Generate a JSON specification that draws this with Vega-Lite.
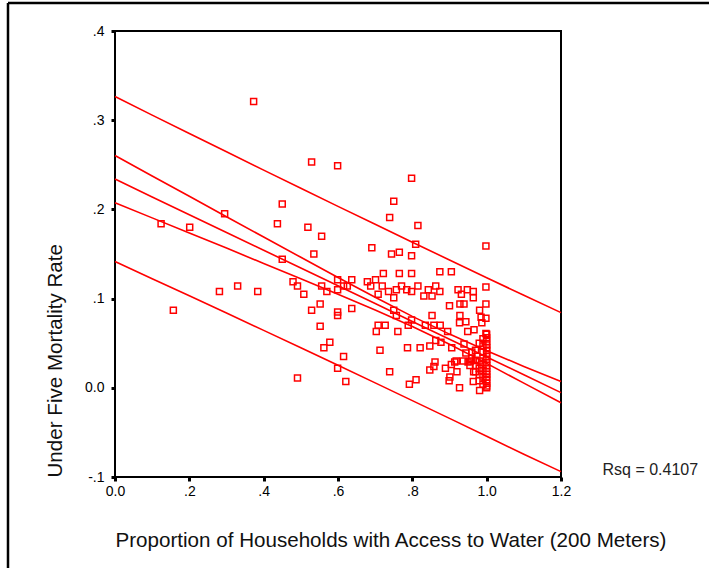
{
  "$schema": "https://vega.github.io/schema/vega-lite/v6.json",
  "width": 446,
  "height": 446,
  "autosize": {"type": "none"},
  "padding": {"left": 115, "top": 31, "right": 148, "bottom": 91},
  "background": "white",
  "datasets": {
    "lines": [
      {"line": "fit", "x": 0.0, "y": 0.2340}, {"line": "fit", "x": 0.1, "y": 0.2140}, {"line": "fit", "x": 0.2, "y": 0.1941}, {"line": "fit", "x": 0.3, "y": 0.1742}, {"line": "fit", "x": 0.4, "y": 0.1542}, {"line": "fit", "x": 0.5, "y": 0.1343}, {"line": "fit", "x": 0.6, "y": 0.1143}, {"line": "fit", "x": 0.7, "y": 0.0944}, {"line": "fit", "x": 0.8, "y": 0.0744}, {"line": "fit", "x": 0.9, "y": 0.0545}, {"line": "fit", "x": 1.0, "y": 0.0345}, {"line": "fit", "x": 1.1, "y": 0.0146}, {"line": "fit", "x": 1.2, "y": -0.0054},
      {"line": "ciLo", "x": 0.0, "y": 0.2075}, {"line": "ciLo", "x": 0.1, "y": 0.1905}, {"line": "ciLo", "x": 0.2, "y": 0.1735}, {"line": "ciLo", "x": 0.3, "y": 0.1566}, {"line": "ciLo", "x": 0.4, "y": 0.1394}, {"line": "ciLo", "x": 0.5, "y": 0.1223}, {"line": "ciLo", "x": 0.6, "y": 0.1049}, {"line": "ciLo", "x": 0.7, "y": 0.0873}, {"line": "ciLo", "x": 0.8, "y": 0.0687}, {"line": "ciLo", "x": 0.9, "y": 0.0488}, {"line": "ciLo", "x": 1.0, "y": 0.0274}, {"line": "ciLo", "x": 1.1, "y": 0.0052}, {"line": "ciLo", "x": 1.2, "y": -0.0168},
      {"line": "ciHi", "x": 0.0, "y": 0.2605}, {"line": "ciHi", "x": 0.1, "y": 0.2375}, {"line": "ciHi", "x": 0.2, "y": 0.2147}, {"line": "ciHi", "x": 0.3, "y": 0.1918}, {"line": "ciHi", "x": 0.4, "y": 0.1690}, {"line": "ciHi", "x": 0.5, "y": 0.1463}, {"line": "ciHi", "x": 0.6, "y": 0.1237}, {"line": "ciHi", "x": 0.7, "y": 0.1015}, {"line": "ciHi", "x": 0.8, "y": 0.0801}, {"line": "ciHi", "x": 0.9, "y": 0.0602}, {"line": "ciHi", "x": 1.0, "y": 0.0416}, {"line": "ciHi", "x": 1.1, "y": 0.0240}, {"line": "ciHi", "x": 1.2, "y": 0.0070},
      {"line": "piLo", "x": 0.0, "y": 0.1415}, {"line": "piLo", "x": 0.1, "y": 0.1223}, {"line": "piLo", "x": 0.2, "y": 0.1031}, {"line": "piLo", "x": 0.3, "y": 0.0838}, {"line": "piLo", "x": 0.4, "y": 0.0644}, {"line": "piLo", "x": 0.5, "y": 0.0449}, {"line": "piLo", "x": 0.6, "y": 0.0252}, {"line": "piLo", "x": 0.7, "y": 0.0055}, {"line": "piLo", "x": 0.8, "y": -0.0144}, {"line": "piLo", "x": 0.9, "y": -0.0343}, {"line": "piLo", "x": 1.0, "y": -0.0544}, {"line": "piLo", "x": 1.1, "y": -0.0745}, {"line": "piLo", "x": 1.2, "y": -0.0940},
      {"line": "piHi", "x": 0.0, "y": 0.3265}, {"line": "piHi", "x": 0.1, "y": 0.3057}, {"line": "piHi", "x": 0.2, "y": 0.2851}, {"line": "piHi", "x": 0.3, "y": 0.2646}, {"line": "piHi", "x": 0.4, "y": 0.2440}, {"line": "piHi", "x": 0.5, "y": 0.2237}, {"line": "piHi", "x": 0.6, "y": 0.2034}, {"line": "piHi", "x": 0.7, "y": 0.1833}, {"line": "piHi", "x": 0.8, "y": 0.1632}, {"line": "piHi", "x": 0.9, "y": 0.1433}, {"line": "piHi", "x": 1.0, "y": 0.1234}, {"line": "piHi", "x": 1.1, "y": 0.1037}, {"line": "piHi", "x": 1.2, "y": 0.0843}
    ],
    "points": [
      {"x": 0.373, "y": 0.321}, {"x": 0.529, "y": 0.253}, {"x": 0.599, "y": 0.249}, {"x": 0.798, "y": 0.235}, {"x": 0.750, "y": 0.209}, {"x": 0.450, "y": 0.206}, {"x": 0.295, "y": 0.195}, {"x": 0.739, "y": 0.191}, {"x": 0.124, "y": 0.184}, {"x": 0.437, "y": 0.184},
      {"x": 0.201, "y": 0.180}, {"x": 0.519, "y": 0.180}, {"x": 0.815, "y": 0.182}, {"x": 0.556, "y": 0.170}, {"x": 0.809, "y": 0.161}, {"x": 0.998, "y": 0.159}, {"x": 0.691, "y": 0.157}, {"x": 0.535, "y": 0.150}, {"x": 0.744, "y": 0.150}, {"x": 0.765, "y": 0.152},
      {"x": 0.798, "y": 0.148}, {"x": 0.450, "y": 0.144}, {"x": 0.798, "y": 0.128}, {"x": 0.874, "y": 0.130}, {"x": 0.905, "y": 0.130}, {"x": 0.722, "y": 0.128}, {"x": 0.765, "y": 0.128}, {"x": 0.157, "y": 0.087}, {"x": 0.281, "y": 0.108}, {"x": 0.330, "y": 0.114},
      {"x": 0.384, "y": 0.108}, {"x": 0.479, "y": 0.119}, {"x": 0.491, "y": 0.114}, {"x": 0.508, "y": 0.105}, {"x": 0.556, "y": 0.114}, {"x": 0.570, "y": 0.108}, {"x": 0.599, "y": 0.121}, {"x": 0.599, "y": 0.110}, {"x": 0.615, "y": 0.114}, {"x": 0.637, "y": 0.121},
      {"x": 0.625, "y": 0.114}, {"x": 0.529, "y": 0.087}, {"x": 0.552, "y": 0.094}, {"x": 0.637, "y": 0.089}, {"x": 0.599, "y": 0.085}, {"x": 0.599, "y": 0.081}, {"x": 0.552, "y": 0.069}, {"x": 0.578, "y": 0.051}, {"x": 0.562, "y": 0.045}, {"x": 0.615, "y": 0.035},
      {"x": 0.599, "y": 0.022}, {"x": 0.621, "y": 0.007}, {"x": 0.491, "y": 0.011}, {"x": 0.679, "y": 0.119}, {"x": 0.688, "y": 0.114}, {"x": 0.701, "y": 0.121}, {"x": 0.708, "y": 0.105}, {"x": 0.719, "y": 0.114}, {"x": 0.736, "y": 0.108}, {"x": 0.750, "y": 0.101},
      {"x": 0.757, "y": 0.110}, {"x": 0.771, "y": 0.114}, {"x": 0.785, "y": 0.110}, {"x": 0.798, "y": 0.108}, {"x": 0.815, "y": 0.114}, {"x": 0.831, "y": 0.103}, {"x": 0.843, "y": 0.110}, {"x": 0.853, "y": 0.103}, {"x": 0.863, "y": 0.114}, {"x": 0.874, "y": 0.108},
      {"x": 0.750, "y": 0.087}, {"x": 0.757, "y": 0.081}, {"x": 0.761, "y": 0.063}, {"x": 0.703, "y": 0.063}, {"x": 0.708, "y": 0.070}, {"x": 0.727, "y": 0.070}, {"x": 0.713, "y": 0.042}, {"x": 0.739, "y": 0.018}, {"x": 0.787, "y": 0.045}, {"x": 0.792, "y": 0.004},
      {"x": 0.810, "y": 0.009}, {"x": 0.789, "y": 0.070}, {"x": 0.798, "y": 0.076}, {"x": 0.821, "y": 0.045}, {"x": 0.835, "y": 0.070}, {"x": 0.853, "y": 0.081}, {"x": 0.858, "y": 0.070}, {"x": 0.875, "y": 0.070}, {"x": 0.895, "y": 0.063}, {"x": 0.863, "y": 0.053},
      {"x": 0.847, "y": 0.047}, {"x": 0.877, "y": 0.051}, {"x": 0.847, "y": 0.020}, {"x": 0.861, "y": 0.029}, {"x": 0.858, "y": 0.024}, {"x": 0.889, "y": 0.022}, {"x": 0.901, "y": 0.012}, {"x": 0.899, "y": 0.008}, {"x": 0.906, "y": 0.045}, {"x": 0.900, "y": 0.092},
      {"x": 0.923, "y": 0.110}, {"x": 0.932, "y": 0.105}, {"x": 0.948, "y": 0.110}, {"x": 0.964, "y": 0.108}, {"x": 0.964, "y": 0.101}, {"x": 0.928, "y": 0.094}, {"x": 0.939, "y": 0.094}, {"x": 0.928, "y": 0.081}, {"x": 0.927, "y": 0.073}, {"x": 0.944, "y": 0.074},
      {"x": 0.949, "y": 0.063}, {"x": 0.966, "y": 0.065}, {"x": 0.939, "y": 0.049}, {"x": 0.944, "y": 0.039}, {"x": 0.927, "y": 0.000}, {"x": 0.920, "y": 0.018}, {"x": 0.914, "y": 0.029}, {"x": 0.950, "y": 0.029}, {"x": 0.964, "y": 0.007}, {"x": 0.981, "y": -0.003},
      {"x": 0.981, "y": 0.087}, {"x": 0.985, "y": 0.079}, {"x": 0.998, "y": 0.113}, {"x": 0.998, "y": 0.094}, {"x": 0.998, "y": 0.078}, {"x": 0.998, "y": 0.061}, {"x": 0.987, "y": 0.073},
      {"x": 0.905, "y": 0.026}, {"x": 0.918, "y": 0.030}, {"x": 0.937, "y": 0.030}, {"x": 0.957, "y": 0.030}, {"x": 0.965, "y": 0.018},
      {"x": 1.0, "y": 0.060}, {"x": 1.0, "y": 0.056}, {"x": 1.0, "y": 0.052}, {"x": 1.0, "y": 0.048}, {"x": 1.0, "y": 0.045}, {"x": 1.0, "y": 0.042}, {"x": 1.0, "y": 0.038}, {"x": 1.0, "y": 0.035}, {"x": 1.0, "y": 0.032}, {"x": 1.0, "y": 0.028},
      {"x": 1.0, "y": 0.025}, {"x": 1.0, "y": 0.022}, {"x": 1.0, "y": 0.018}, {"x": 1.0, "y": 0.015}, {"x": 1.0, "y": 0.012}, {"x": 1.0, "y": 0.009}, {"x": 1.0, "y": 0.005}, {"x": 1.0, "y": 0.002}, {"x": 1.0, "y": 0.000},
      {"x": 0.99, "y": 0.055}, {"x": 0.99, "y": 0.047}, {"x": 0.99, "y": 0.040}, {"x": 0.99, "y": 0.033}, {"x": 0.99, "y": 0.026}, {"x": 0.99, "y": 0.019}, {"x": 0.99, "y": 0.012}, {"x": 0.99, "y": 0.004},
      {"x": 0.98, "y": 0.050}, {"x": 0.98, "y": 0.030}, {"x": 0.98, "y": 0.022}, {"x": 0.98, "y": 0.015}, {"x": 0.98, "y": 0.008},
      {"x": 0.97, "y": 0.042}, {"x": 0.97, "y": 0.031}, {"x": 0.97, "y": 0.025}, {"x": 0.97, "y": 0.018}, {"x": 0.96, "y": 0.033}, {"x": 0.96, "y": 0.040}, {"x": 0.955, "y": 0.025}
    ]
  },
  "layer": [
    {
      "data": {"values": [{}]},
      "mark": {"type": "rule", "color": "black", "strokeWidth": 2.5},
      "encoding": {
        "x": {"datum": -0.2879, "type": "quantitative", "scale": {"domain": [0, 1.2]}, "title": "Proportion of Households with Access to Water (200 Meters)", "axis": {"values": [0, 0.2, 0.4, 0.6, 0.8, 1.0, 1.2]}},
        "y": {"datum": 0.4314, "type": "quantitative", "scale": {"domain": [-0.1, 0.4]}, "title": "Under Five Mortality Rate", "axis": {"values": [-0.1, 0, 0.1, 0.2, 0.3, 0.4]}},
        "y2": {"datum": -0.4}
      }
    },
    {
      "data": {"values": [{}]},
      "mark": {"type": "rule", "color": "black", "strokeWidth": 2.5},
      "encoding": {
        "x": {"datum": -0.2879, "type": "quantitative", "title": "Proportion of Households with Access to Water (200 Meters)"},
        "x2": {"datum": 2.0},
        "y": {"datum": 0.4314, "type": "quantitative", "title": "Under Five Mortality Rate"}
      }
    },
    {
      "data": {"name": "lines"},
      "mark": {"type": "line", "color": "#ff0000", "strokeWidth": 1.6},
      "encoding": {
        "x": {"field": "x", "type": "quantitative", "title": "Proportion of Households with Access to Water (200 Meters)"},
        "y": {"field": "y", "type": "quantitative", "title": "Under Five Mortality Rate"},
        "detail": {"field": "line"}
      }
    },
    {
      "data": {"name": "points"},
      "mark": {"type": "point", "shape": "square", "filled": false, "color": "#ff0000", "strokeWidth": 1.5, "size": 36, "opacity": 1},
      "encoding": {
        "x": {"field": "x", "type": "quantitative", "title": "Proportion of Households with Access to Water (200 Meters)"},
        "y": {"field": "y", "type": "quantitative", "title": "Under Five Mortality Rate"}
      }
    },
    {
      "data": {"values": [{"label": "Rsq = 0.4107"}]},
      "mark": {"type": "text", "align": "left", "baseline": "alphabetic", "fontSize": 16, "font": "Liberation Sans", "color": "#222222"},
      "encoding": {
        "x": {"datum": 1.3117, "type": "quantitative", "title": "Proportion of Households with Access to Water (200 Meters)"},
        "y": {"datum": -0.0975, "type": "quantitative", "title": "Under Five Mortality Rate"},
        "text": {"field": "label"}
      }
    }
  ],
  "config": {
    "font": "Liberation Sans",
    "view": {"stroke": "black", "strokeWidth": 2},
    "axis": {
      "domain": false,
      "grid": false,
      "tickColor": "black",
      "tickSize": 4,
      "tickWidth": 3,
      "labelFont": "Liberation Sans",
      "labelFontSize": 14,
      "labelColor": "black",
      "labelFlush": false,
      "labelOverlap": false,
      "titleFont": "Liberation Sans",
      "titleFontSize": 20.6,
      "titleFontWeight": "normal",
      "titleColor": "#111111",
      "labelExpr": "datum.value == 0 ? '0.0' : (abs(datum.value) < 1 ? (datum.value < 0 ? '-' : '') + substring(format(abs(datum.value), '.1f'), 1) : format(datum.value, '.1f'))"
    },
    "axisX": {"labelPadding": 3, "titlePadding": 32, "titleAnchor": "start"},
    "axisY": {"labelPadding": 7, "titlePadding": 19, "titleAnchor": "start"}
  }
}
